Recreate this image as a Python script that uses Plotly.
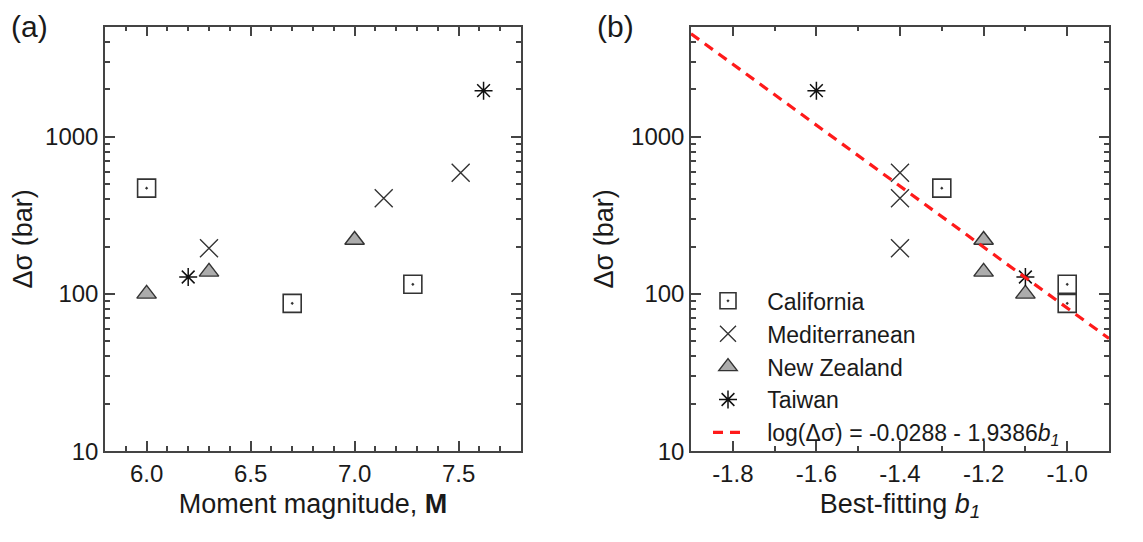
import numpy as np
import plotly.graph_objects as go

# ---- data ----
cal_M = [6.0, 6.7, 7.28]
cal_b1 = [-1.3, -1.0, -1.0]
cal_ds = [470, 87, 115]

med_M = [6.3, 7.14, 7.51]
med_b1 = [-1.4, -1.4, -1.4]
med_ds = [195, 405, 590]

nz_M = [6.0, 6.3, 7.0]
nz_b1 = [-1.1, -1.2, -1.2]
nz_ds = [100, 138, 220]

tw_M = [6.2, 7.62]
tw_b1 = [-1.1, -1.6]
tw_ds = [128, 1960]

fit_a = -0.0288
fit_b = -1.9386
fit_x = [-1.9, -0.9]

FONT = "Liberation Sans, Arial, sans-serif"
INK = "#333333"

styles = {
    "California": dict(symbol="square-open-dot", size=18, color=INK, line=dict(width=1.6, color=INK)),
    "Mediterranean": dict(symbol="x-thin-open", size=18, color=INK, line=dict(width=1.4, color=INK)),
    "New Zealand": dict(symbol="triangle-up", size=17, color="#acacac", line=dict(width=1.4, color=INK)),
    "Taiwan": dict(symbol="asterisk-open", size=15, color="#111111", line=dict(width=1.5, color="#111111")),
}
series = [
    ("California", cal_M, cal_b1, cal_ds),
    ("Mediterranean", med_M, med_b1, med_ds),
    ("New Zealand", nz_M, nz_b1, nz_ds),
    ("Taiwan", tw_M, tw_b1, tw_ds),
]

fig = go.Figure()
pad = "\u00a0\u00a0\u00a0"
for name, M, b1, ds in series:
    fig.add_trace(go.Scatter(x=M, y=ds, mode="markers", marker=styles[name],
                             xaxis="x", yaxis="y", showlegend=False, name=name))
for name, M, b1, ds in series:
    fig.add_trace(go.Scatter(x=b1, y=ds, mode="markers", marker=styles[name],
                             xaxis="x2", yaxis="y2", showlegend=True, name=pad + name))

fx = np.array(fit_x)
fy = 10 ** (fit_a + fit_b * fx)
fig.add_trace(go.Scatter(x=fx, y=fy, mode="lines", xaxis="x2", yaxis="y2",
                         line=dict(color="#ff1a1a", width=3.2, dash="10px,7px"),
                         name=pad + "log(Δσ) = -0.0288 - 1.9386<i>b</i><sub><i>1</i></sub>"))

W, H = 1143, 542
def fx_(p): return p / W
def fy_(p): return 1 - p / H

ymin_minor = []
for dec in [10, 100, 1000]:
    for k in range(2, 10):
        v = k * dec
        if v <= 5000:
            ymin_minor.append(v)

common_axis = dict(showline=True, linecolor="#444444", linewidth=1.5, mirror="ticks",
                   ticks="inside", ticklen=10, tickwidth=1.5, tickcolor="#444444",
                   showgrid=False, zeroline=False,
                   tickfont=dict(family=FONT, size=24, color="#1a1a1a"))
yaxis_common = dict(common_axis, type="log", range=[1, 3.7],
                    tickmode="array", tickvals=[10, 100, 1000], ticktext=["10", "100", "1000"],
                    minor=dict(ticks="inside", ticklen=5, tickwidth=1.5, tickcolor="#444444",
                               tickmode="array", tickvals=ymin_minor, showgrid=False),
                    title=dict(text="Δσ (bar)", font=dict(family=FONT, size=27, color="#1a1a1a"), standoff=10))

fig.update_layout(
    width=W, height=H,
    margin=dict(l=0, r=0, t=0, b=0),
    paper_bgcolor="white", plot_bgcolor="white",
    font=dict(family=FONT, color="#1a1a1a"),
    xaxis=dict(common_axis, domain=[fx_(97), fx_(513)], range=[5.8, 7.8], anchor="y",
               tickmode="array", tickvals=[6.0, 6.5, 7.0, 7.5], ticktext=["6.0", "6.5", "7.0", "7.5"],
               minor=dict(ticks="inside", ticklen=5, tickwidth=1.5, tickcolor="#444444", dtick=0.1, showgrid=False),
               title=dict(text="Moment magnitude, <b>M</b>", font=dict(family=FONT, size=27, color="#1a1a1a"), standoff=8)),
    yaxis=dict(yaxis_common, domain=[fy_(454), fy_(19)], anchor="x"),
    xaxis2=dict(common_axis, domain=[fx_(683), fx_(1101)], range=[-1.9, -0.9], anchor="y2",
                tickmode="array", tickvals=[-1.8, -1.6, -1.4, -1.2, -1.0],
                ticktext=["-1.8", "-1.6", "-1.4", "-1.2", "-1.0"],
                minor=dict(ticks="inside", ticklen=5, tickwidth=1.5, tickcolor="#444444", dtick=0.1, showgrid=False),
                title=dict(text="Best-fitting <i>b</i><sub><i>1</i></sub>", font=dict(family=FONT, size=27, color="#1a1a1a"), standoff=8)),
    yaxis2=dict(yaxis_common, domain=[fy_(454), fy_(19)], anchor="x2"),
    legend=dict(x=fx_(700), y=fy_(278), xanchor="left", yanchor="top",
                bgcolor="rgba(0,0,0,0)", borderwidth=0,
                font=dict(family=FONT, size=23, color="#1a1a1a"),
                itemwidth=30, tracegroupgap=0),
    annotations=[
        dict(text="(a)", x=fx_(1), y=fy_(0), xref="paper", yref="paper", xanchor="left", yanchor="top",
             showarrow=False, font=dict(family=FONT, size=30, color="#1a1a1a")),
        dict(text="(b)", x=fx_(587), y=fy_(0), xref="paper", yref="paper", xanchor="left", yanchor="top",
             showarrow=False, font=dict(family=FONT, size=30, color="#1a1a1a")),
    ],
)

fig.write_html("out.html")
